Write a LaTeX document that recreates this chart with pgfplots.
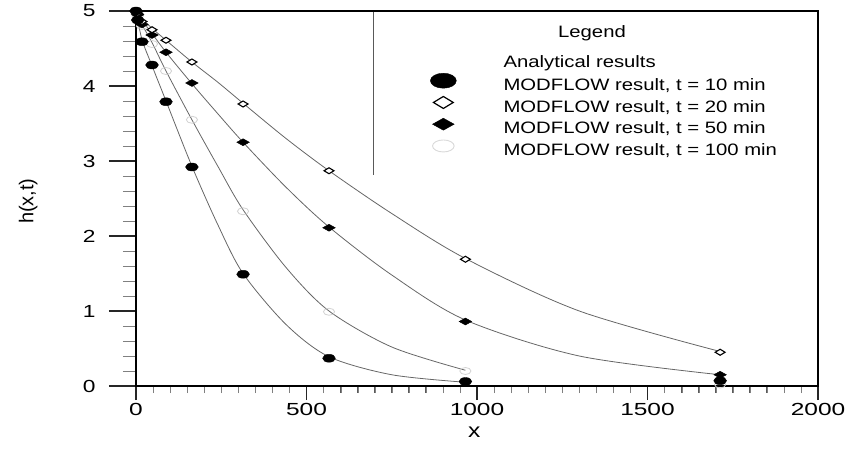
\documentclass[border=0pt]{standalone}
\usepackage{fontspec}
\setmainfont{Liberation Sans}
\usepackage{pgfplots}
\usepackage{pgfplotstable}
\pgfplotsset{compat=1.18}
% the lettering of this figure is set wide
\newcommand\wide[2][1.23]{\scalebox{#1}[1]{#2}}

% MODFLOW heads h(x,t) at the cell centres
\pgfplotstableread{
x y
0 5.00
5 4.88
17.5 4.59
47 4.28
88 3.79
164 2.92
314 1.49
566 0.37
966 0.06
1713 0.07
}\modA
\pgfplotstableread{
x y
0 5.00
5 4.97
17.5 4.86
47 4.75
88 4.61
164 4.32
314 3.76
566 2.87
966 1.69
1713 0.45
}\modB
\pgfplotstableread{
x y
0 5.00
5 4.95
17.5 4.82
47 4.68
88 4.45
164 4.04
314 3.25
566 2.11
966 0.86
1713 0.15
}\modC
\pgfplotstableread{
x y
0 5.00
5 4.93
17.5 4.80
47 4.56
88 4.20
164 3.55
314 2.33
566 0.99
966 0.20
1713 0.02
}\modD

% analytical solutions
\pgfplotstableread{
x y
0 5.00
17.5 4.62
47 4.27
88 3.80
164 2.93
240 2.15
314 1.50
440 0.82
566 0.39
750 0.15
966 0.05
}\anA
\pgfplotstableread{
x y
0 5.00
17.5 4.82
47 4.58
88 4.20
164 3.55
240 2.93
314 2.35
440 1.58
566 1.00
750 0.52
966 0.21
}\anD
\pgfplotstableread{
x y
0 5.00
17.5 4.88
47 4.70
88 4.45
164 4.03
240 3.63
314 3.25
440 2.65
566 2.12
750 1.48
966 0.88
1300 0.40
1713 0.15
}\anC
\pgfplotstableread{
x y
0 5.00
17.5 4.90
47 4.77
88 4.61
164 4.32
240 4.05
314 3.77
440 3.30
566 2.87
750 2.30
966 1.70
1300 1.00
1713 0.46
}\anB

\begin{document}
\begin{tikzpicture}
\begin{axis}[
    scale only axis, width=682pt, height=375pt,
    xmin=0, xmax=2000, ymin=0, ymax=5,
    clip=false, axis on top,
    tick align=outside, tick pos=left,
    axis line style={line width=1.4pt, black},
    major tick style={line width=1.3pt, black!85},
    major tick length=14pt, minor tick length=7pt,
    ytick style={/pgfplots/major tick length=27pt, /pgfplots/minor tick length=13pt},
    xtick={0,500,1000,1500,2000},
    xticklabels={\wide[1.4]{0},\wide[1.4]{500},\wide[1.4]{1000},\wide[1.4]{1500},\wide[1.4]{2000}},
    minor x tick num=9,
    ytick={0,1,2,3,4,5},
    yticklabels={\wide[1.3]{0},\wide[1.3]{1},\wide[1.3]{2},\wide[1.3]{3},\wide[1.3]{4},\wide[1.3]{5}},
    minor y tick num=4,
    xticklabel style={font=\fontsize{17.5}{20}\selectfont},
    yticklabel style={font=\fontsize{17.5}{20}\selectfont, xshift=-23pt},
    xlabel={\wide{x}},
    xlabel style={font=\fontsize{20}{22}\selectfont, at={(axis description cs:0.496,-0.123)}, anchor=center},
    ylabel={h(x,t)},
    ylabel style={font=\fontsize{20}{22}\selectfont, at={(axis description cs:-0.158,0.493)}, anchor=center},
    legend style={at={(axis description cs:0.431,0.8853)}, anchor=north west,
      draw=none, fill=none, inner sep=0pt, row sep=1.5pt,
      font=\fontsize{16.5}{19}\selectfont,
      nodes={inner sep=1pt, text height=12pt, text depth=3.5pt}},
    legend cell align=left,
    legend image code/.code={%
      \path (-13pt,0pt) (59pt,0pt);
      \draw[#1] plot coordinates {(0pt,5.5pt)};},
  ]
  % analytical curves
  \addplot[forget plot, smooth, gray!80!black, line width=0.8pt] table {\anA};
  \addplot[forget plot, smooth, gray!80!black, line width=0.8pt] table {\anD};
  \addplot[forget plot, smooth, gray!80!black, line width=0.8pt] table {\anC};
  \addplot[forget plot, smooth, gray!80!black, line width=0.8pt] table {\anB};
  % MODFLOW results
  \addplot[forget plot, only marks, mark=o, gray!35, mark size=3.5pt,
    mark options={xscale=1.6, line width=0.8pt}] table {\modD};
  \addplot[forget plot, only marks, mark=diamond*, black, mark size=3.5pt,
    mark options={xscale=2.4}] table {\modC};
  \addplot[forget plot, only marks, mark=diamond*, black, mark size=3pt,
    mark options={xscale=2.2, fill=white, line width=1.1pt}] table {\modB};
  \addplot[forget plot, only marks, mark=*, black, mark size=4pt,
    mark options={xscale=1.6}] table {\modA};

  \addlegendimage{empty legend}
  \addlegendentry{\wide{Analytical results}}
  \addlegendimage{only marks, mark=*, black, mark size=7.5pt, mark options={xscale=1.73}}
  \addlegendentry{\wide{MODFLOW result, t = 10 min}}
  \addlegendimage{only marks, mark=diamond*, black, mark size=6pt, mark options={xscale=2.2, fill=white, line width=1.2pt}}
  \addlegendentry{\wide{MODFLOW result, t = 20 min}}
  \addlegendimage{only marks, mark=diamond*, black, mark size=6pt, mark options={xscale=2.4}}
  \addlegendentry{\wide{MODFLOW result, t = 50 min}}
  \addlegendimage{only marks, mark=o, gray!30, mark size=6pt, mark options={xscale=1.8, line width=0.9pt}}
  \addlegendentry{\wide{MODFLOW result, t = 100 min}}

  % legend frame and heading
  \draw[line width=0.8pt, gray!70!black] (axis cs:695,5) -- (axis cs:695,2.81);
  \node[font=\fontsize{16.5}{19}\selectfont] at (axis description cs:0.6686,0.9413) {\wide{Legend}};

  % frame of the plot area and the scales, drawn over the curves
  \draw[line width=0.8pt, gray!70!black] (axis cs:0,0) -- (axis cs:2000,0) -- (axis cs:2000,5) -- (axis cs:0,5) -- cycle;
  \draw[line width=1.4pt, black] (axis cs:0,0) -- (axis cs:2000,0) -- (axis cs:2000,5) -- (axis cs:0,5) -- cycle;
  \pgfplotsinvokeforeach{0,50,...,2000}{
    \draw[line width=0.8pt, gray!70!black] (axis cs:#1,0) -- ++(0pt,-7pt);}
  \pgfplotsinvokeforeach{0,500,...,2000}{
    \draw[line width=0.8pt, gray!70!black] (axis cs:#1,0) -- ++(0pt,-14pt);
    \draw[line width=1.3pt, black] (axis cs:#1,0) -- ++(0pt,-14pt);}
  \pgfplotsinvokeforeach{0,0.2,...,5}{
    \draw[line width=0.8pt, gray!70!black] (axis cs:0,#1) -- ++(-13pt,0pt);}
  \pgfplotsinvokeforeach{0,1,...,5}{
    \draw[line width=0.8pt, gray!70!black] (axis cs:0,#1) -- ++(-27pt,0pt);
    \draw[line width=1.3pt, black] (axis cs:0,#1) -- ++(-27pt,0pt);}
\end{axis}
% page margins around the axis
\path ([shift={(-136pt,-64pt)}]current axis.south west);
\path ([shift={(32pt,11pt)}]current axis.north east);
\end{tikzpicture}
\end{document}
